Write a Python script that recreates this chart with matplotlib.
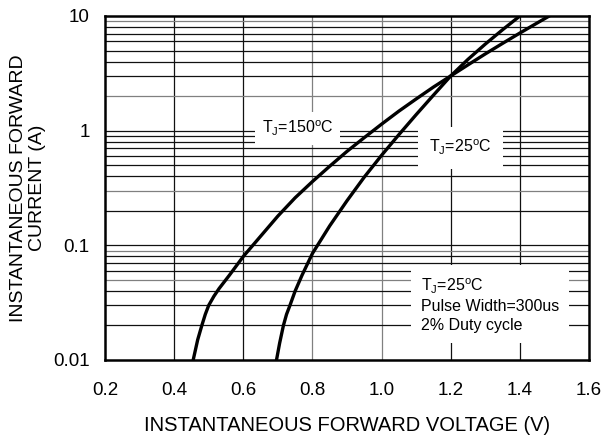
import matplotlib
matplotlib.use("Agg")
import matplotlib.pyplot as plt
import numpy as np
from matplotlib.ticker import FixedLocator, FixedFormatter, NullLocator

plt.rcParams['font.family'] = ['Liberation Sans', 'DejaVu Sans']
plt.rcParams['mathtext.fontset'] = 'custom'
plt.rcParams['mathtext.rm'] = 'Liberation Sans'

# Data
v_150 = [0.455, 0.468, 0.48, 0.49, 0.50, 0.515, 0.53, 0.56, 0.60, 0.65, 0.70, 0.75, 0.80,
         0.85, 0.90, 0.95, 1.00, 1.05, 1.10, 1.15, 1.20, 1.25, 1.30, 1.35, 1.40, 1.45, 1.485]
i_150 = [0.01, 0.015, 0.02, 0.025, 0.03, 0.036, 0.042, 0.055, 0.08, 0.12, 0.18, 0.26, 0.36,
         0.49, 0.66, 0.87, 1.14, 1.48, 1.89, 2.4, 3.0, 3.75, 4.67, 5.77, 7.1, 8.69, 10.0]
v_25 = [0.696, 0.705, 0.716, 0.725, 0.735, 0.75, 0.77, 0.80, 0.85, 0.90, 0.95, 1.00,
        1.05, 1.10, 1.15, 1.20, 1.25, 1.30, 1.35, 1.40]
i_25 = [0.01, 0.014, 0.02, 0.025, 0.03, 0.04, 0.055, 0.085, 0.148, 0.245, 0.394, 0.61,
        0.923, 1.38, 2.04, 3.0, 4.19, 5.69, 7.59, 10.0]

x_ticks = [0.2, 0.4, 0.6, 0.8, 1.0, 1.2, 1.4, 1.6]
x_labels = ['0.2', '0.4', '0.6', '0.8', '1.0', '1.2', '1.4', '1.6']
y_ticks = [0.01, 0.1, 1, 10]
y_labels = ['0.01', '0.1', '1', '10']
gray_v = [0.8, 1.0]
gray_h = [0.05, 0.09, 0.3, 2, 9]

fig = plt.figure(figsize=(6.05, 4.38), dpi=100)
ax = fig.add_axes([0.1736, 0.1781, 0.8, 0.7854])
ax.set_yscale('log')
ax.set_xlim(0.2, 1.6)
ax.set_ylim(0.01, 10)

# grid
for xv in x_ticks[1:-1]:
    c = '#808080' if xv in gray_v else '#111111'
    ax.axvline(xv, color=c, lw=0.9, zorder=1)
for dec in [0.01, 0.1, 1]:
    for m in range(1, 10):
        yv = round(dec * m, 4)
        if yv == 0.01:
            continue
        c = '#808080' if yv in gray_h else '#111111'
        ax.axhline(yv, color=c, lw=0.9, zorder=1)

ax.plot(v_150, i_150, color='black', lw=2.4, zorder=5, solid_joinstyle='round')
ax.plot(v_25, i_25, color='black', lw=2.4, zorder=5, solid_joinstyle='round')

ax.xaxis.set_major_locator(FixedLocator(x_ticks))
ax.xaxis.set_major_formatter(FixedFormatter(x_labels))
ax.yaxis.set_major_locator(FixedLocator(y_ticks))
ax.yaxis.set_major_formatter(FixedFormatter(y_labels))
ax.yaxis.set_minor_locator(NullLocator())
ax.tick_params(axis='both', length=0, labelsize=13.5)
ax.tick_params(axis='x', pad=16)
ax.tick_params(axis='y', pad=11)
for s in ax.spines.values():
    s.set_linewidth(1.8)
    s.set_zorder(6)

ax.set_xlabel('INSTANTANEOUS FORWARD VOLTAGE (V)', fontsize=14.5, labelpad=12)
ax.set_ylabel('INSTANTANEOUS FORWARD\nCURRENT (A)', fontsize=14, labelpad=5, linespacing=1.2)

ax.text(0.757, 1.04, r'T$_{\rm J}$=150$^{\rm o}$C', fontsize=11.5, ha='center', va='center',
        bbox=dict(facecolor='white', edgecolor='none', pad=5), zorder=3)
ax.text(1.229, 0.71, r'T$_{\rm J}$=25$^{\rm o}$C', fontsize=11.5, ha='center', va='center',
        bbox=dict(facecolor='white', edgecolor='none', pad=8), zorder=3)
ax.text(1.113, 0.0304, 'T$_{\\rm J}$=25$^{\\rm o}$C\nPulse Width=300us\n2% Duty cycle', fontsize=11.5,
        ha='left', va='center', linespacing=1.3,
        bbox=dict(facecolor='white', edgecolor='none', pad=7), zorder=3)

fig.savefig('out.png', dpi=100)
